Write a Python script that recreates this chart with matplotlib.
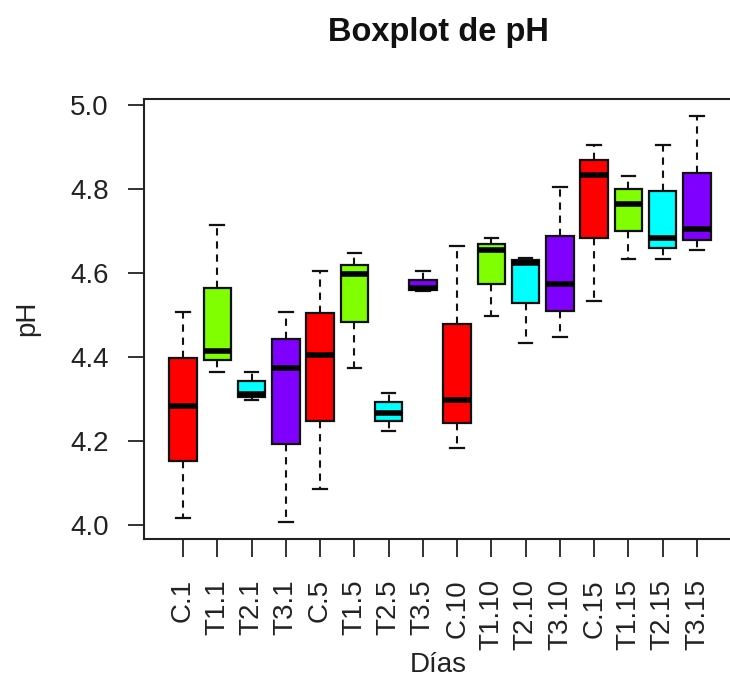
import matplotlib.pyplot as plt

plt.rcParams['font.family'] = ['Liberation Sans', 'DejaVu Sans']

# pH por tratamiento y día
grupos = ['C.1', 'T1.1', 'T2.1', 'T3.1', 'C.5', 'T1.5', 'T2.5', 'T3.5',
          'C.10', 'T1.10', 'T2.10', 'T3.10', 'C.15', 'T1.15', 'T2.15', 'T3.15']
bigote_inf = [4.017, 4.365, 4.297, 4.007, 4.085, 4.375, 4.225, 4.557,
              4.184, 4.497, 4.433, 4.447, 4.533, 4.633, 4.633, 4.656]
q1 = [4.152, 4.393, 4.306, 4.193, 4.247, 4.483, 4.247, 4.559,
      4.244, 4.574, 4.529, 4.510, 4.683, 4.700, 4.660, 4.678]
mediana = [4.284, 4.415, 4.313, 4.375, 4.406, 4.597, 4.266, 4.564,
           4.298, 4.656, 4.624, 4.575, 4.833, 4.765, 4.683, 4.706]
q3 = [4.398, 4.564, 4.343, 4.443, 4.506, 4.620, 4.293, 4.583,
      4.478, 4.669, 4.632, 4.688, 4.868, 4.800, 4.796, 4.837]
bigote_sup = [4.507, 4.714, 4.365, 4.507, 4.606, 4.647, 4.315, 4.606,
              4.665, 4.683, 4.635, 4.805, 4.905, 4.832, 4.905, 4.974]
colores = ['#FF0000', '#80FF00', '#00FFFF', '#8000FF'] * 4

stats = []
for i, g in enumerate(grupos):
    stats.append({'label': g, 'whislo': bigote_inf[i], 'q1': q1[i], 'med': mediana[i],
                  'q3': q3[i], 'whishi': bigote_sup[i], 'fliers': []})

W, H = 730, 681
fig = plt.figure(figsize=(W / 100, H / 100), dpi=100)
ax = fig.add_axes([144 / W, 142 / H, 592 / W, 439.7 / H])

bp = ax.bxp(stats, positions=range(1, 17), widths=0.8, capwidths=0.4,
            patch_artist=True, showfliers=False,
            boxprops=dict(edgecolor='#111111', linewidth=1.6),
            medianprops=dict(color='black', linewidth=4, solid_capstyle='butt'),
            whiskerprops=dict(color='#111111', linewidth=1.5, linestyle=(0, (3.5, 2.8))),
            capprops=dict(color='#111111', linewidth=1.6))
for caja, c in zip(bp['boxes'], colores):
    caja.set_facecolor(c)

ax.set_xlim(-0.14, 17.14)
ax.set_ylim(3.967, 5.0136)
ax.set_yticks([4.0, 4.2, 4.4, 4.6, 4.8, 5.0])
ax.set_yticklabels(['4.0', '4.2', '4.4', '4.6', '4.8', '5.0'])
ax.set_xticks(range(1, 17))
ax.set_xticklabels(grupos, rotation=90, va='top')
ax.tick_params(axis='y', length=11.5, width=1.3, pad=14, labelsize=20, colors='#222222')
ax.tick_params(axis='x', length=13, width=1.3, pad=16, labelsize=20, colors='#222222')
for s in ax.spines.values():
    s.set_linewidth(1.5)
    s.set_color('#222222')

fig.text(438 / W, 1 - 33 / H, 'Boxplot de pH', ha='center', va='center',
         fontsize=23.5, fontweight='bold', color='#111111')
fig.text(27 / W, 1 - 318 / H, 'pH', ha='center', va='center', rotation=90,
         fontsize=20, color='#222222')
fig.text(438 / W, 1 - 665 / H, 'Días', ha='center', va='center',
         fontsize=20, color='#222222')

fig.savefig('out.png', dpi=100)
